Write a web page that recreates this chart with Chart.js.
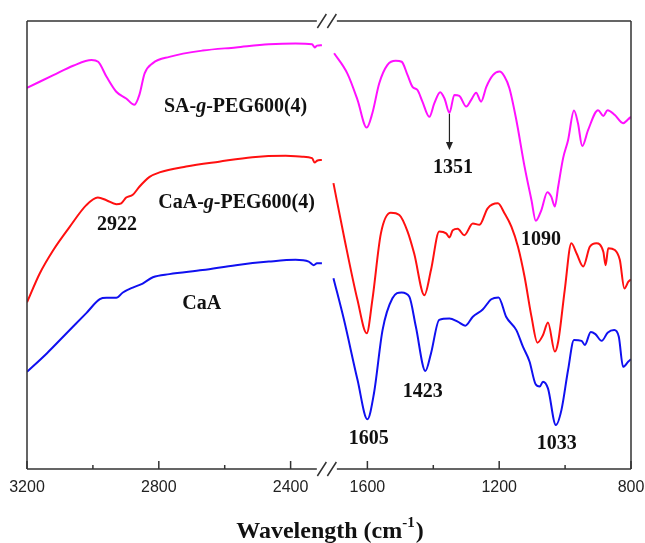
<!DOCTYPE html>
<html>
<head>
<meta charset="utf-8">
<script src="https://cdn.jsdelivr.net/npm/chart.js@4.4.1/dist/chart.umd.min.js"></script>
<style>
  html, body { margin: 0; padding: 0; background: #fff; }
  #ftir { display: block; }
</style>
</head>
<body>
<canvas id="ftir" width="645" height="543"></canvas>
<script>
// FTIR spectra, broken wavenumber axis (3200-2290 | 1723-800)

// left segment (high wavenumbers)
const saWnL = [3200, 3120, 3060, 3004, 2984, 2959, 2929, 2899, 2874, 2859, 2843, 2818, 2768, 2667, 2566, 2466, 2385, 2335, 2327, 2320, 2305];
const saTL = [85.1, 87.9, 90.0, 91.3, 90.9, 87.6, 84.2, 82.7, 81.3, 83.5, 88.3, 90.6, 92.0, 93.4, 94.1, 94.8, 95.0, 94.8, 94.1, 94.5, 94.6];

const caPegWnL = [3200, 3161, 3120, 3070, 3020, 2985, 2959, 2929, 2914, 2899, 2879, 2859, 2828, 2798, 2717, 2617, 2516, 2415, 2365, 2335, 2327, 2320, 2305];
const caPegTL = [37.2, 43.7, 48.9, 54.1, 58.9, 60.6, 60.0, 59.1, 59.3, 60.6, 61.2, 63.0, 65.2, 66.2, 67.5, 68.6, 69.6, 69.9, 69.7, 69.4, 68.4, 68.8, 69.0];

const caWnL = [3200, 3140, 3080, 3020, 2979, 2959, 2929, 2909, 2879, 2849, 2818, 2768, 2667, 2566, 2466, 2385, 2345, 2330, 2320, 2305];
const caTL = [21.7, 25.8, 30.3, 34.8, 37.9, 38.2, 38.2, 39.4, 40.5, 41.4, 42.8, 43.5, 44.4, 45.5, 46.3, 46.7, 46.3, 45.5, 45.9, 45.9];

// right segment (fingerprint region)
const saWnR = [1701, 1661, 1630, 1602, 1585, 1564, 1539, 1514, 1496, 1478, 1463, 1448, 1433, 1412, 1397, 1379, 1366, 1351, 1336, 1321, 1300, 1285, 1270, 1255, 1239, 1219, 1199, 1184, 1169, 1148, 1123, 1102, 1089, 1072, 1054, 1042, 1031, 1021, 1006, 991, 973, 961, 948, 930, 900, 884, 871, 849, 824, 808, 800];
const saTR = [92.8, 88.3, 82.4, 76.2, 79.4, 86.1, 90.2, 91.1, 90.9, 87.9, 85.3, 84.6, 82.0, 78.6, 81.6, 84.1, 82.7, 79.5, 83.5, 83.3, 80.9, 82.4, 84.0, 82.0, 85.3, 87.9, 88.7, 87.6, 85.0, 77.9, 67.5, 60.0, 55.4, 57.8, 61.8, 60.8, 58.6, 63.0, 69.4, 73.4, 80.0, 77.2, 72.1, 75.7, 80.1, 78.8, 80.1, 79.0, 77.2, 78.1, 78.6];

const caPegWnR = [1703, 1671, 1630, 1602, 1585, 1559, 1529, 1503, 1478, 1458, 1427, 1407, 1382, 1361, 1351, 1341, 1326, 1306, 1280, 1260, 1235, 1204, 1184, 1163, 1143, 1123, 1102, 1084, 1067, 1052, 1031, 1021, 1001, 981, 965, 945, 925, 905, 884, 877, 869, 849, 834, 820, 808, 800];
const caPegTR = [63.8, 51.9, 37.7, 30.3, 37.7, 52.6, 57.2, 56.7, 53.0, 48.1, 38.8, 44.4, 53.0, 52.6, 51.7, 53.3, 53.6, 52.2, 54.8, 54.5, 58.2, 59.3, 57.1, 54.1, 49.6, 42.9, 34.0, 28.2, 29.9, 32.7, 26.2, 28.4, 40.0, 50.4, 48.1, 45.2, 49.6, 50.4, 48.5, 45.5, 49.3, 48.9, 46.7, 40.3, 41.8, 42.3];

const caWnR = [1703, 1671, 1630, 1600, 1580, 1554, 1524, 1496, 1473, 1453, 1424, 1407, 1382, 1351, 1326, 1303, 1280, 1250, 1224, 1202, 1179, 1148, 1128, 1108, 1090, 1077, 1067, 1052, 1028, 1011, 991, 973, 950, 940, 922, 908, 889, 871, 851, 837, 824, 808, 800];
const caTR = [42.6, 33.3, 19.9, 11.1, 16.9, 31.0, 38.1, 39.4, 38.5, 31.8, 21.9, 25.8, 33.3, 33.6, 32.9, 32.0, 34.0, 35.6, 37.9, 38.3, 34.0, 31.0, 27.3, 24.0, 19.0, 18.4, 19.5, 18.0, 9.8, 13.2, 22.1, 28.8, 28.6, 27.7, 30.6, 30.1, 28.6, 30.4, 31.0, 29.5, 22.8, 24.0, 24.5];

// ticks
const ticksLeft = [3200, 3000, 2800, 2600, 2400];
const ticksRight = [1600, 1400, 1200, 1000, 800];
const tickLabelsLeft = ['3200', '', '2800', '', '2400'];
const tickLabelsRight = ['1600', '', '1200', '', '800'];

const axisTitle = 'Wavelength (cm';
const axisTitleSup = '-1';

function pts(wn, t) {
    return wn.map((w, i) => ({ x: w, y: t[i] }));
}

function spectrum(wn, t, color, axis) {
    return {
        data: pts(wn, t),
        xAxisID: axis,
        yAxisID: 'y',
        borderColor: color,
        borderWidth: 2,
        pointRadius: 0,
        fill: false,
        cubicInterpolationMode: 'monotone'
    };
}

const MAGENTA = '#ff10ff', RED = '#ff1010', BLUE = '#1010f0';

// annotations anchored in data coordinates
const labels = [
    { parts: [['SA-', false], ['g', true], ['-PEG600(4)', false]], axis: 'x1', wn: 2567, t: 79.7 },
    { parts: [['CaA-', false], ['g', true], ['-PEG600(4)', false]], axis: 'x1', wn: 2564, t: 58.3 },
    { parts: [['2922', false]], axis: 'x1', wn: 2927, t: 53.3 },
    { parts: [['CaA', false]], axis: 'x1', wn: 2670, t: 35.7 },
    { parts: [['1351', false]], axis: 'x2', wn: 1340, t: 66.1 },
    { parts: [['1090', false]], axis: 'x2', wn: 1073, t: 50.0 },
    { parts: [['1605', false]], axis: 'x2', wn: 1596, t: 5.6 },
    { parts: [['1423', false]], axis: 'x2', wn: 1432, t: 16.1 },
    { parts: [['1033', false]], axis: 'x2', wn: 1025, t: 4.5 }
];

const framePlugin = {
    id: 'frame',
    afterDraw(chart) {
        const ctx = chart.ctx;
        const a = chart.chartArea;
        const x1 = chart.scales.x1, x2 = chart.scales.x2, y = chart.scales.y;
        const brk = x1.right;
        ctx.save();
        ctx.strokeStyle = '#333';
        ctx.lineWidth = 1.5;
        ctx.beginPath();
        // top & bottom with a gap at the break
        [a.top, a.bottom].forEach(yy => {
            ctx.moveTo(a.left, yy); ctx.lineTo(brk - 10, yy);
            ctx.moveTo(brk + 10, yy); ctx.lineTo(a.right, yy);
        });
        ctx.moveTo(a.left, a.top); ctx.lineTo(a.left, a.bottom);
        ctx.moveTo(a.right, a.top); ctx.lineTo(a.right, a.bottom);
        ctx.stroke();

        // break marks //
        ctx.beginPath();
        [a.top, a.bottom].forEach(yy => {
            [-5, 5].forEach(dx => {
                ctx.moveTo(brk + dx - 4.5, yy + 7);
                ctx.lineTo(brk + dx + 4.5, yy - 7);
            });
        });
        ctx.stroke();

        // inward ticks + labels
        ctx.fillStyle = '#222';
        ctx.font = '16px "Liberation Sans", Arial, sans-serif';
        ctx.textAlign = 'center';
        ctx.textBaseline = 'alphabetic';
        const drawTicks = (scale, vals, labs) => {
            vals.forEach((v, i) => {
                const px = scale.getPixelForValue(v);
                const len = labs[i] ? 8 : 4;
                ctx.beginPath();
                ctx.moveTo(px, a.bottom);
                ctx.lineTo(px, a.bottom - len);
                ctx.stroke();
                if (labs[i]) ctx.fillText(labs[i], px, a.bottom + 23);
            });
        };
        drawTicks(x1, ticksLeft, tickLabelsLeft);
        drawTicks(x2, ticksRight, tickLabelsRight);

        // peak / sample labels
        ctx.fillStyle = '#111';
        ctx.textAlign = 'left';
        const fontN = 'bold 20px "Liberation Serif", "Times New Roman", serif';
        const fontI = 'italic bold 20px "Liberation Serif", "Times New Roman", serif';
        labels.forEach(l => {
            const cx = chart.scales[l.axis].getPixelForValue(l.wn);
            const cy = y.getPixelForValue(l.t);
            let w = 0;
            l.parts.forEach(p => { ctx.font = p[1] ? fontI : fontN; w += ctx.measureText(p[0]).width; });
            let x = cx - w / 2;
            l.parts.forEach(p => {
                ctx.font = p[1] ? fontI : fontN;
                ctx.fillText(p[0], x, cy);
                x += ctx.measureText(p[0]).width;
            });
        });

        // arrow at 1351
        const ax = x2.getPixelForValue(1351);
        const ay0 = y.getPixelForValue(79.3), ay1 = y.getPixelForValue(71.2);
        ctx.strokeStyle = '#222';
        ctx.lineWidth = 1.2;
        ctx.beginPath();
        ctx.moveTo(ax, ay0); ctx.lineTo(ax, ay1 - 6);
        ctx.stroke();
        ctx.beginPath();
        ctx.moveTo(ax - 3.5, ay1 - 8); ctx.lineTo(ax + 3.5, ay1 - 8); ctx.lineTo(ax, ay1);
        ctx.closePath();
        ctx.fillStyle = '#222';
        ctx.fill();

        // axis title with superscript
        ctx.fillStyle = '#111';
        const fT = 'bold 24px "Liberation Serif", "Times New Roman", serif';
        const fS = 'bold 15px "Liberation Serif", "Times New Roman", serif';
        ctx.font = fT; const w1 = ctx.measureText(axisTitle).width; const w3 = ctx.measureText(')').width;
        ctx.font = fS; const w2 = ctx.measureText(axisTitleSup).width;
        const tw = w1 + w2 + w3 + 1;
        let tx = (a.left + a.right) / 2 - tw / 2 + 1;
        const ty = 538;
        ctx.font = fT; ctx.fillText(axisTitle, tx, ty); tx += w1;
        ctx.font = fS; ctx.fillText(axisTitleSup, tx, ty - 11); tx += w2 + 1;
        ctx.font = fT; ctx.fillText(')', tx, ty);
        ctx.restore();
    }
};

new Chart(document.getElementById('ftir'), {
    type: 'line',
    data: {
        datasets: [
            spectrum(saWnL, saTL, MAGENTA, 'x1'),
            spectrum(caPegWnL, caPegTL, RED, 'x1'),
            spectrum(caWnL, caTL, BLUE, 'x1'),
            spectrum(saWnR, saTR, MAGENTA, 'x2'),
            spectrum(caPegWnR, caPegTR, RED, 'x2'),
            spectrum(caWnR, caTR, BLUE, 'x2')
        ]
    },
    options: {
        responsive: false,
        animation: false,
        layout: { padding: { left: 27, right: 14, top: 21, bottom: 74 } },
        plugins: { legend: { display: false }, tooltip: { enabled: false } },
        scales: {
            x1: {
                type: 'linear', position: 'bottom', stack: 'wn', stackWeight: 910,
                reverse: true, min: 2290, max: 3200,
                grid: { display: false, drawTicks: false }, border: { display: false }, ticks: { display: false }
            },
            x2: {
                type: 'linear', position: 'bottom', stack: 'wn', stackWeight: 923,
                reverse: true, min: 800, max: 1723,
                grid: { display: false, drawTicks: false }, border: { display: false }, ticks: { display: false }
            },
            y: { display: false, min: 0, max: 100 }
        }
    },
    plugins: [framePlugin]
});
</script>
</body>
</html>
